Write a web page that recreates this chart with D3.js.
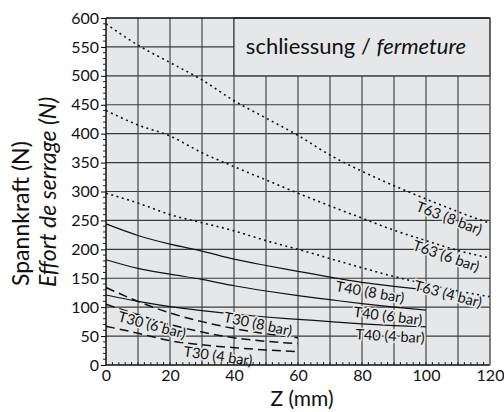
<!DOCTYPE html>
<html><head><meta charset="utf-8">
<script src="https://cdn.jsdelivr.net/npm/d3@7"></script>
<style>
body{margin:0;background:#fff;}
text{font-family:Lato,"Open Sans",sans-serif;fill:#111;}
</style>
</head><body>
<svg id="chart" width="504" height="412"></svg>
<script>
// ---- data ----
const zT63 = [0,10,20,30,40,50,60,70,80,90,100,110,120];
const t63_8bar = [590,553,523,493,457,427,397,363,335,310,287,265,245];
const t63_6bar = [440,415,396,367,343,320,297,275,254,233,215,198,185];
const t63_4bar = [297,280,260,246,232,215,200,184,168,153,140,128,118];

const zT40 = [0,10,20,30,40,50,60,70,80,90,100];
const t40_8bar = [244,224,209,197,183,172,162,152,143,136,130];
const t40_6bar = [182,167,157,148,137,128,120,113,106,100,95];
const t40_4bar = [121,110,101,94,88,83,79,75,71,68,66];

const zT30 = [0,10,20,30,40,50,60];
const t30_8bar = [134,110,90,75,63,54,47];
const t30_6bar = [105,87,70,57,47,41,37];
const t30_4bar = [67,55,42,35,30,26,23];

const seriesNames = ["T63 (8 bar)","T63 (6 bar)","T63 (4 bar)","T40 (8 bar)","T40 (6 bar)","T40 (4 bar)","T30 (8 bar)","T30 (6 bar)","T30 (4 bar)"];
const xTickValues = [0,20,40,60,80,100,120];
const yTickValues = [0,50,100,150,200,250,300,350,400,450,500,550,600];
const titleMain = "schliessung / ";
const titleItalic = "fermeture";
const xTitle = "Z (mm)";
const yTitle1 = "Spannkraft (N)";
const yTitle2 = "Effort de serrage (N)";

// ---- layout ----
const svg = d3.select("#chart");
const x = d3.scaleLinear().domain([0,120]).range([106,490]);
const y = d3.scaleLinear().domain([0,600]).range([365,18]);
const bg = "#e5e7e8";

const series = [
  {name:seriesNames[0], z:zT63, v:t63_8bar, style:"dot"},
  {name:seriesNames[1], z:zT63, v:t63_6bar, style:"dot"},
  {name:seriesNames[2], z:zT63, v:t63_4bar, style:"dot"},
  {name:seriesNames[3], z:zT40, v:t40_8bar, style:"solid"},
  {name:seriesNames[4], z:zT40, v:t40_6bar, style:"solid"},
  {name:seriesNames[5], z:zT40, v:t40_4bar, style:"solid"},
  {name:seriesNames[6], z:zT30, v:t30_8bar, style:"dash"},
  {name:seriesNames[7], z:zT30, v:t30_6bar, style:"dash"},
  {name:seriesNames[8], z:zT30, v:t30_4bar, style:"dash"}
];
// label placement (data coords of label centre, rotation in degrees)
const labelPlace = [
  {z:107.2, v:254, a:21},
  {z:106.3, v:188.5, a:19},
  {z:106.9, v:122.8, a:15},
  {z:82.5, v:126, a:10},
  {z:88.1, v:84.7, a:7},
  {z:88.75, v:50, a:3},
  {z:47.5, v:71, a:12},
  {z:14.4, v:69, a:15},
  {z:35, v:15.6, a:8}
];

// background
svg.append("rect").attr("x",x(0)).attr("y",y(600)).attr("width",x(120)-x(0)).attr("height",y(0)-y(600)).attr("fill",bg);

// grid
const g = svg.append("g").attr("stroke","#3a3a3a").attr("stroke-width",1.1);
g.selectAll("line.v").data(d3.range(10,120,10)).join("line")
  .attr("x1",d=>x(d)).attr("x2",d=>x(d)).attr("y1",y(0)).attr("y2",y(600));
g.selectAll("line.h").data(d3.range(50,600,50)).join("line")
  .attr("x1",x(0)).attr("x2",x(120)).attr("y1",d=>y(d)).attr("y2",d=>y(d));

// title box
svg.append("rect").attr("x",x(40)).attr("y",y(600)).attr("width",x(120)-x(40)).attr("height",y(500)-y(600))
  .attr("fill",bg).attr("stroke","#333").attr("stroke-width",1.1);
const tt = svg.append("text").attr("x",356).attr("y",y(550)+7).attr("text-anchor","middle")
  .attr("font-size",22);
tt.append("tspan").text(titleMain);
tt.append("tspan").attr("font-style","italic").text(titleItalic);

// curves
const line = d3.line().curve(d3.curveMonotoneX);
const dashes = {dot:"2,3.5", solid:null, dash:"9,5"};
const widths = {dot:1.6, solid:1.2, dash:1.5};
svg.append("g").selectAll("path").data(series).join("path")
  .attr("d",d=>line(d.z.map((z,i)=>[x(z),y(d.v[i])])))
  .attr("fill","none").attr("stroke","#111")
  .attr("stroke-width",d=>widths[d.style])
  .attr("stroke-dasharray",d=>dashes[d.style]);

// labels
svg.append("g").selectAll("text").data(series).join("text")
  .attr("transform",(d,i)=>`translate(${x(labelPlace[i].z)},${y(labelPlace[i].v)}) rotate(${labelPlace[i].a})`)
  .attr("text-anchor","middle").attr("dy","0.35em")
  .attr("font-size",14.5)
  .attr("stroke",bg).attr("stroke-width",3).attr("paint-order","stroke")
  .text(d=>d.name);

// axes
const yAxis = d3.axisLeft(y).tickValues(yTickValues).tickSize(5).tickPadding(2);
const ya = svg.append("g").attr("transform",`translate(${x(0)},0)`).call(yAxis);
ya.selectAll("text").attr("font-size",16).attr("fill","#111").attr("font-family","Lato");
ya.select(".domain").remove();
// y minor ticks
svg.append("g").selectAll("line").data(d3.range(0,601,10).filter(d=>d%50)).join("line")
  .attr("x1",x(0)-3).attr("x2",x(0)).attr("y1",d=>y(d)).attr("y2",d=>y(d)).attr("stroke","#222");
// x minor ticks (inward)
svg.append("g").selectAll("line").data(d3.range(2,120,2)).join("line")
  .attr("x1",d=>x(d)).attr("x2",d=>x(d)).attr("y1",y(0)).attr("y2",y(0)-3).attr("stroke","#222");

const xAxis = d3.axisBottom(x).tickValues(xTickValues).tickSize(0).tickPadding(5);
const xa = svg.append("g").attr("transform",`translate(0,${y(0)})`).call(xAxis);
xa.selectAll("text").attr("font-size",16).attr("fill","#111").attr("font-family","Lato");
xa.select(".domain").remove();

// frame
svg.append("line").attr("x1",x(0)).attr("x2",x(120)).attr("y1",y(600)).attr("y2",y(600)).attr("stroke","#111").attr("stroke-width",1.5);
svg.append("line").attr("x1",x(0)).attr("x2",x(120)).attr("y1",y(0)).attr("y2",y(0)).attr("stroke","#111").attr("stroke-width",1.5);
svg.append("line").attr("x1",x(0)).attr("x2",x(0)).attr("y1",y(0)).attr("y2",y(600)).attr("stroke","#111").attr("stroke-width",1.5);
svg.append("line").attr("x1",x(120)).attr("x2",x(120)).attr("y1",y(0)).attr("y2",y(600)).attr("stroke","#555").attr("stroke-width",1.5);

// titles
svg.append("text").attr("x",302).attr("y",406).attr("text-anchor","middle").attr("font-size",21).text(xTitle);
svg.append("text").attr("transform","translate(29,286) rotate(-90)").attr("font-size",23).text(yTitle1);
svg.append("text").attr("transform","translate(56,287) rotate(-90)").attr("font-size",23).attr("font-style","italic").text(yTitle2);
</script>
</body></html>
